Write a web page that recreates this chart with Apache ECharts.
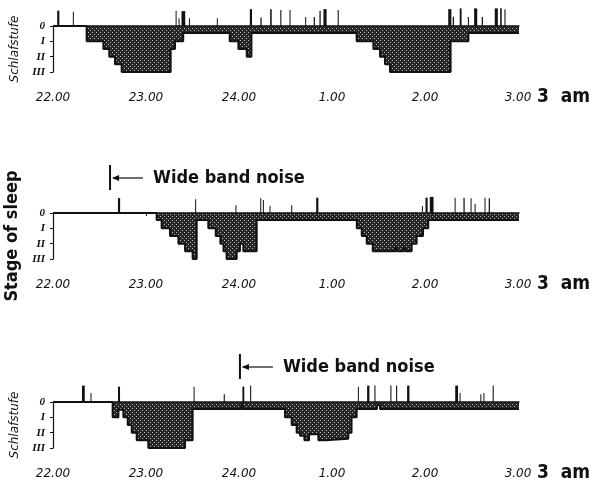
<!DOCTYPE html>
<html>
<head>
<meta charset="utf-8">
<script src="https://cdn.jsdelivr.net/npm/echarts@6/dist/echarts.min.js"></script>
<style>
  html, body { margin: 0; padding: 0; background: #fff; }
  #chart { width: 591px; height: 487px; }
</style>
</head>
<body>
<div id="chart"></div>
<script>
// Time is given in minutes after 22.00; sleep stage 0..3 (0, I, II, III),
// 0.45 marks the drowsy band just under the waking line.
const timeTicks = [0, 60, 120, 180, 240, 300];
const timeLabels = ['22.00', '23.00', '24.00', '1.00', '2.00', '3.00'];
const stageLabels = ['0', 'I', 'II', 'III'];
const endLabel = '3  am';

// Night 1 hypnogram: [minute, stage], held until the next entry
const night1 = [
  [0, 0], [21.7, 1], [32.5, 1.5], [36.3, 2], [40, 2.5], [44.3, 3], [75.9, 1.5], [78.7, 1],
  [84, 0.45], [114, 1], [119.6, 1.5], [125, 2], [128, 0.45], [195.9, 1], [206.7, 1.5],
  [211, 2], [214.2, 2.5], [217.4, 3], [256.5, 1], [268, 0.45], [301, 0.45], [301, 0]
];
// Night 1 body movements: [minute, height above waking line, duration]
const moves1 = [
  [3.4, -1.0, 1.4], [13.1, -0.93, 0.6], [79.4, -1.0, 0.6], [81.3, -0.5, 0.6], [84.1, -0.97, 2.4],
  [88, -0.5, 0.6], [106, -0.5, 0.6], [127.7, -1.1, 1.4], [134.2, -0.55, 0.8], [140.6, -1.1, 1.0],
  [147, -1.05, 0.7], [152.9, -1.05, 0.6], [163, -0.58, 0.6], [168.6, -0.58, 0.8], [172.3, -1.0, 0.8],
  [175.5, -1.1, 2], [184, -1.05, 0.7], [256, -1.1, 2], [258.3, -0.6, 0.8], [263, -1.15, 1.2],
  [268, -0.58, 0.7], [272.7, -1.15, 2], [277, -0.58, 0.8], [286, -1.15, 2], [289, -1.15, 1],
  [291.6, -1.1, 0.7]
];

// Night 2 (wide band noise from 22.37)
const night2 = [
  [0, 0], [66.9, 0.45], [70.1, 1], [75.5, 1.5], [80.9, 2], [85.2, 2.5], [90.1, 3], [92.7, 0.45],
  [100.2, 1], [105, 1.5], [108, 2], [110, 2.5], [112, 3], [118.5, 2.5], [120.6, 2], [122.8, 2.5],
  [131.4, 0.45], [196, 1], [199.2, 1.5], [202.4, 2], [206.3, 2.5], [221, 2.2], [222, 2.5],
  [226.5, 2.2], [227.5, 2.5], [231.4, 2], [234.6, 1.5], [238.7, 1], [242.1, 0.45], [301, 0.45], [301, 0]
];
const moves2 = [
  [42.6, -0.97, 1.4], [92, -0.9, 0.6], [118, -0.5, 0.6], [134, -0.97, 0.6], [135.7, -0.85, 0.6],
  [140, -0.45, 0.6], [154, -0.5, 0.6], [170.5, -1.0, 1.4], [238.3, -0.45, 0.6], [241, -1.0, 1.4],
  [244.3, -1.05, 2.4], [259.4, -1.0, 0.6], [265.2, -1.0, 0.8], [269.7, -0.97, 0.6], [272.3, -0.6, 0.6],
  [278.7, -1.0, 0.6], [281.5, -0.97, 0.8]
];
const noiseStart2 = 36.8;

// Night 3 (wide band noise from 24.00)
const night3 = [
  [0, 0], [38.5, 1], [42.2, 0.5], [45.4, 1], [48.2, 1.5], [50.8, 2], [54, 2.5], [61.5, 3],
  [85.2, 2.5], [90.1, 0.45], [121.6, 0], [122.4, 0.45], [149.7, 1], [154, 1.5], [157.2, 2],
  [159.4, 2.2], [162.2, 2.5], [165.2, 2.1], [171.2, 2.5], [176, 2.4], [190.5, 2], [192.6, 1],
  [195.9, 0.45], [209, 0.2], [211, 0.45], [301, 0.45], [301, 0]
];
const moves3 = [
  [19.6, -1.07, 1.8], [24.5, -0.58, 0.6], [42.6, -1.0, 1.3], [91, -1.0, 0.6], [110.5, -0.5, 0.7],
  [122.8, -1.0, 1.2], [127.5, -1.07, 0.7], [197, -1.0, 0.6], [203.4, -1.07, 1.5], [207.7, -1.07, 0.7],
  [218, -1.07, 0.7], [221.7, -1.07, 0.7], [229.2, -1.07, 1.5], [260.4, -1.07, 1.8], [262.6, -0.58, 0.6],
  [276, -0.5, 0.6], [278, -0.58, 0.6], [284, -1.07, 0.7]
];
const noiseStart3 = 120.6;

// stippled fill for the sleep areas
function stipple() {
  const c = document.createElement('canvas');
  c.width = 4; c.height = 4;
  const g = c.getContext('2d');
  g.fillStyle = '#262626';
  g.fillRect(0, 0, 4, 4);
  g.fillStyle = '#b8b8b8';
  g.fillRect(0, 0, 1, 1);
  g.fillRect(2, 2, 1, 1);
  return c;
}
const fillPattern = { image: stipple(), repeat: 'repeat' };

const INK = '#111';
const tickFont = { fontFamily: 'DejaVu Sans', fontStyle: 'italic', fontSize: 12, color: INK };
const boldFont = '"DejaVu Sans Condensed", "DejaVu Sans", sans-serif';

const panels = [
  { top: 26, stages: night1, moves: moves1, yName: 'Schlafstufe', noise: null },
  { top: 213, stages: night2, moves: moves2, yName: 'Stage of sleep', noise: noiseStart2 },
  { top: 402, stages: night3, moves: moves3, yName: 'Schlafstufe', noise: noiseStart3 }
];

const grid = [], xAxis = [], yAxis = [], series = [];

panels.forEach((p, i) => {
  grid.push({ left: 53, right: 73, top: p.top, height: 46, outerBoundsMode: 'none', containLabel: false });
  xAxis.push({
    gridIndex: i, type: 'value', min: 0, max: 300, interval: 60, offset: 12,
    axisLine: { show: false }, splitLine: { show: false },
    axisTick: { show: true, length: 3, lineStyle: { color: INK, width: 1 } },
    axisLabel: Object.assign({ margin: 8, formatter: v => timeLabels[timeTicks.indexOf(v)] }, tickFont)
  });
  const big = p.yName === 'Stage of sleep';
  yAxis.push({
    gridIndex: i, type: 'value', inverse: true, min: 0, max: 3, interval: 1,
    splitLine: { show: false },
    axisLine: { show: true, lineStyle: { color: INK, width: 1.2 } },
    axisTick: { show: true, length: 3, lineStyle: { color: INK } },
    axisLabel: { margin: 8, formatter: v => stageLabels[v], fontFamily: 'Liberation Serif',
      fontStyle: 'italic', fontWeight: 'bold', fontSize: 11, color: INK },
    name: p.yName, nameLocation: 'middle', nameRotate: 90, nameGap: big ? 22 : 24,
    nameTextStyle: big
      ? { fontFamily: boldFont, fontWeight: 'bold', fontSize: 18, color: INK }
      : { fontFamily: 'DejaVu Sans', fontStyle: 'italic', fontSize: 12, color: INK }
  });

  const first = p.stages[0][0], last = p.stages[p.stages.length - 1][0];
  // waking line
  series.push({
    type: 'line', xAxisIndex: i, yAxisIndex: i, symbol: 'none', clip: false, silent: true,
    data: [[first, 0], [last, 0]], lineStyle: { color: INK, width: 1.4 }, z: 3
  });
  // hypnogram
  series.push({
    type: 'line', xAxisIndex: i, yAxisIndex: i, step: 'end', symbol: 'none', clip: false,
    data: p.stages, lineStyle: { color: INK, width: 2 },
    areaStyle: { color: fillPattern, opacity: 1 }, z: 2
  });
  // body movements
  series.push({
    type: 'custom', xAxisIndex: i, yAxisIndex: i, data: p.moves, z: 4,
    renderItem: (params, api) => {
      const t = api.value(0), h = api.value(1), d = api.value(2);
      const a = api.coord([t - d / 2, 0]);
      const b = api.coord([t + d / 2, h]);
      return { type: 'rect', shape: { x: a[0], y: b[1], width: Math.max(1, b[0] - a[0]), height: a[1] - b[1] },
        style: { fill: INK } };
    }
  });
  // noise marker
  if (p.noise !== null) {
    series.push({
      type: 'custom', xAxisIndex: i, yAxisIndex: i, data: [[p.noise]], z: 5,
      renderItem: (params, api) => {
        const o = api.coord([api.value(0), 0]);
        const x = o[0], y = o[1] - 35;
        return { type: 'group', children: [
          { type: 'rect', shape: { x: x - 1, y: o[1] - 48, width: 2, height: 25 }, style: { fill: INK } },
          { type: 'line', shape: { x1: x + 3, y1: y, x2: x + 33, y2: y }, style: { stroke: INK, lineWidth: 1.2 } },
          { type: 'polygon', shape: { points: [[x + 2, y], [x + 9, y - 3], [x + 9, y + 3]] }, style: { fill: INK } },
          { type: 'text', x: x + 43, y: y, style: { text: 'Wide band noise', fill: INK,
            font: 'bold 18px ' + boldFont, verticalAlign: 'middle', align: 'left' } }
        ] };
      }
    });
  }
});

const chart = echarts.init(document.getElementById('chart'), null, { renderer: 'canvas' });
chart.setOption({ animation: false, backgroundColor: '#fff', grid, xAxis, yAxis, series });

// "3 am" beside the last time label of each panel
const endMarks = panels.map((p, i) => {
  const pt = chart.convertToPixel({ gridIndex: i }, [timeTicks[timeTicks.length - 1], 3]);
  return { type: 'text', x: pt[0] + 19, y: pt[1] + 25,
    style: { text: endLabel, fill: INK, font: 'bold 19px ' + boldFont, verticalAlign: 'middle' } };
});
chart.setOption({ graphic: endMarks });
</script>
</body>
</html>
